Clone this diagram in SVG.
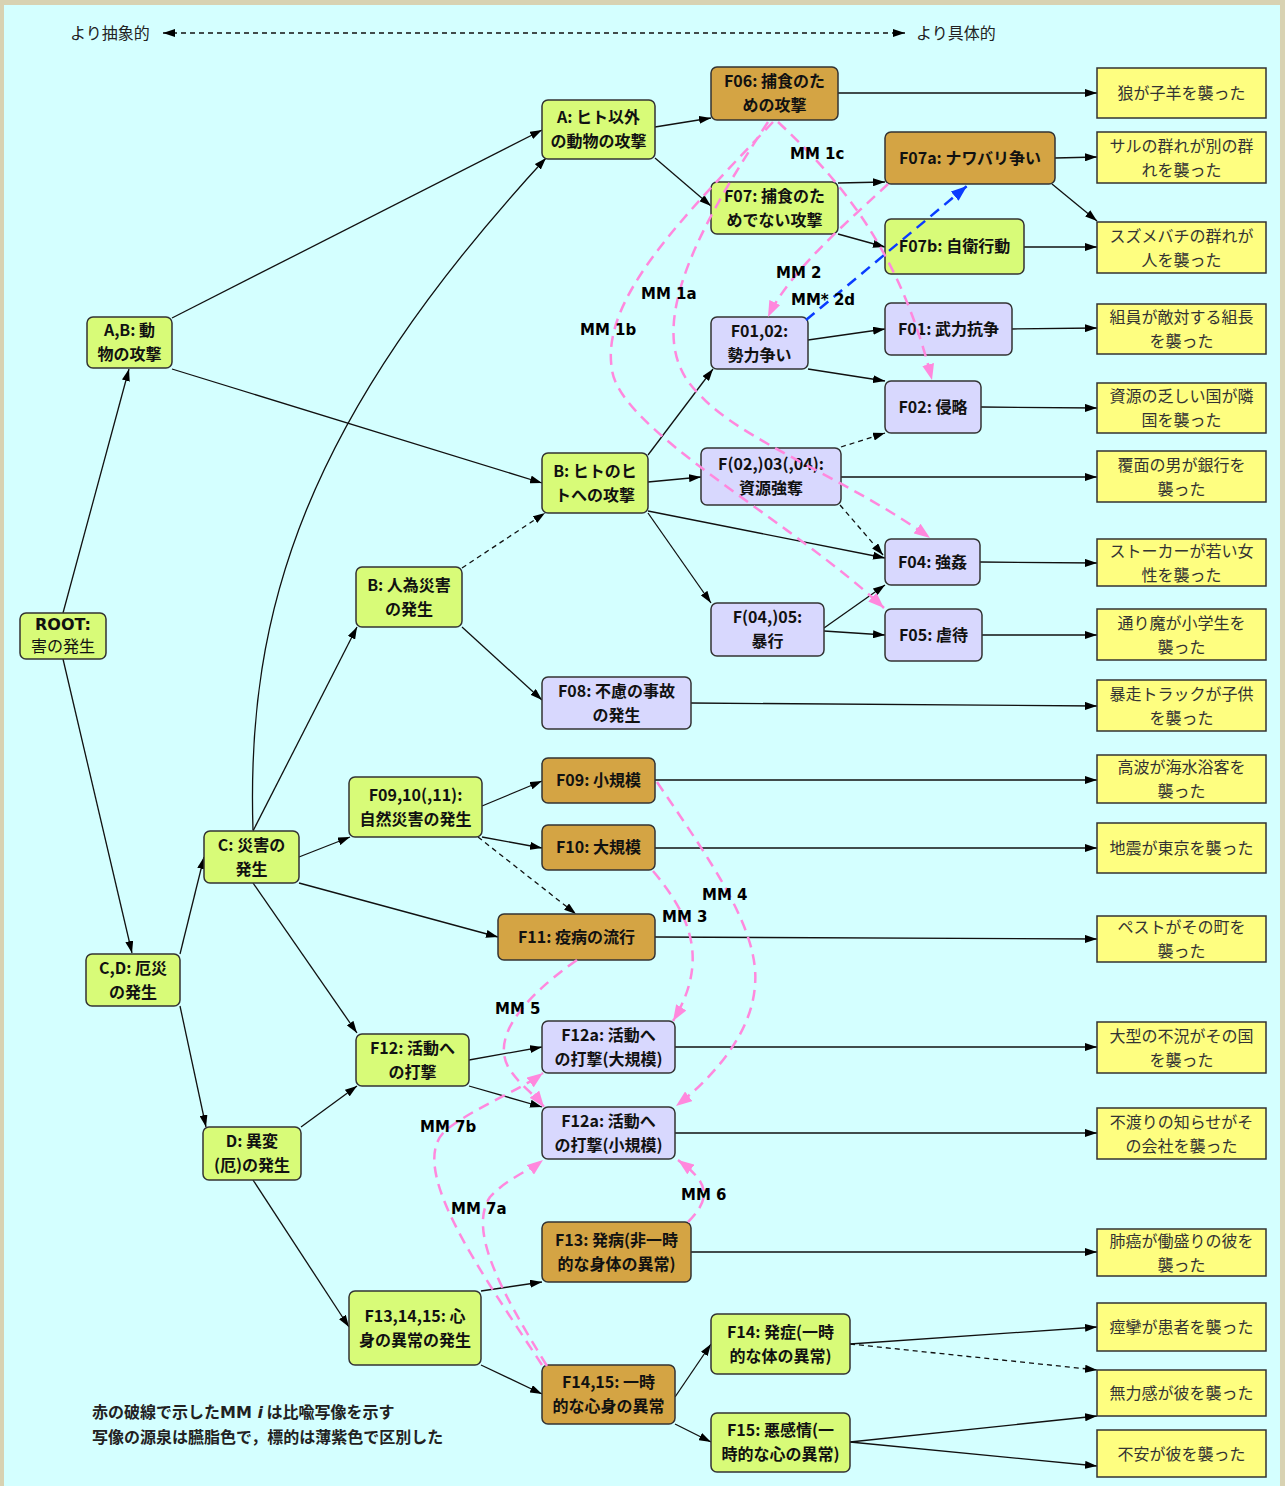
<svg xmlns="http://www.w3.org/2000/svg" width="1285" height="1486" viewBox="0 0 1285 1486">
<style>
.n{stroke:#333;stroke-width:1.5}
.g{fill:#d8fb78}.o{fill:#d4a444}.l{fill:#d8d8fe}
.lf{fill:#fefe80;stroke:#333;stroke-width:1.5}
.t{font-family:"Noto Sans CJK JP","Noto Sans",sans-serif;font-size:16px;font-weight:bold;fill:#111;text-anchor:middle;dominant-baseline:central}
.lt{font-family:"Noto Sans CJK JP","Noto Sans",sans-serif;font-size:16px;fill:#333;text-anchor:middle;dominant-baseline:central}
.e{stroke:#111;stroke-width:1.3;fill:none;marker-end:url(#ah)}
.ed{stroke:#111;stroke-width:1.3;fill:none;stroke-dasharray:5 4;marker-end:url(#ah)}
.mm{stroke:#ff88dd;stroke-width:2.5;fill:none;stroke-dasharray:11 7;marker-end:url(#ap)}
.mb{stroke:#0a3cff;stroke-width:2.5;fill:none;stroke-dasharray:11 7;marker-end:url(#ab)}
.ml{font-family:"DejaVu Sans",sans-serif;font-size:15px;font-weight:bold;fill:#000}
.hd{font-family:"Noto Sans CJK JP",sans-serif;font-size:16px;fill:#222}
.ft{font-family:"Noto Sans CJK JP",sans-serif;font-size:16px;font-weight:bold;fill:#222}
</style>
<defs>
<marker id="ah" viewBox="0 0 12 8" refX="12" refY="4" markerWidth="12" markerHeight="8" markerUnits="userSpaceOnUse" orient="auto"><path d="M0,0 L12,4 L0,8 z" fill="#000"/></marker>
<marker id="ah2" viewBox="0 0 12 8" refX="12" refY="4" markerWidth="12" markerHeight="8" markerUnits="userSpaceOnUse" orient="auto-start-reverse"><path d="M0,0 L12,4 L0,8 z" fill="#000"/></marker>
<marker id="ap" viewBox="0 0 16 12" refX="16" refY="6" markerWidth="16" markerHeight="12" markerUnits="userSpaceOnUse" orient="auto"><path d="M0,0 L16,6 L0,12 z" fill="#ff88dd"/></marker>
<marker id="ab" viewBox="0 0 16 12" refX="16" refY="6" markerWidth="16" markerHeight="12" markerUnits="userSpaceOnUse" orient="auto"><path d="M0,0 L16,6 L0,12 z" fill="#0a3cff"/></marker>
</defs>
<rect x="0" y="0" width="1285" height="1486" fill="#d8d2b2"/>
<rect x="4" y="5" width="1276" height="1481" fill="#d4ffff"/>

<g id="header">
<text class="hd" x="70" y="39">より抽象的</text>
<line x1="163" y1="33" x2="905" y2="33" stroke="#111" stroke-width="1.3" stroke-dasharray="5 4" marker-start="url(#ah2)" marker-end="url(#ah2)"/>
<text class="hd" x="916" y="39">より具体的</text>
</g>

<g id="connectors">
<line class="e" x1="63" y1="613" x2="129" y2="369"/>
<line class="e" x1="63" y1="659" x2="132" y2="953"/>
<line class="e" x1="172" y1="318" x2="542" y2="130"/>
<line class="e" x1="172" y1="369" x2="542" y2="483"/>
<path class="e" d="M253,830 C246,610 305,420 546,158"/>
<line class="e" x1="655" y1="127" x2="711" y2="118"/>
<line class="e" x1="655" y1="158" x2="711" y2="206"/>
<line class="e" x1="838" y1="93" x2="1097" y2="93"/>
<line class="e" x1="838" y1="183" x2="885" y2="182"/>
<line class="e" x1="838" y1="234" x2="885" y2="247"/>
<line class="e" x1="1055" y1="158" x2="1097" y2="157"/>
<line class="e" x1="1052" y1="184" x2="1097" y2="221"/>
<line class="e" x1="1024" y1="247" x2="1097" y2="247"/>
<line class="e" x1="648" y1="455" x2="713" y2="369"/>
<line class="e" x1="648" y1="482" x2="701" y2="477"/>
<line class="e" x1="648" y1="511" x2="885" y2="558"/>
<line class="e" x1="648" y1="513" x2="711" y2="603"/>
<line class="e" x1="808" y1="340" x2="885" y2="329"/>
<line class="e" x1="808" y1="369" x2="885" y2="381"/>
<line class="e" x1="1012" y1="329" x2="1097" y2="328"/>
<line class="e" x1="981" y1="407" x2="1097" y2="408"/>
<line class="ed" x1="841" y1="447" x2="885" y2="433"/>
<line class="e" x1="841" y1="477" x2="1097" y2="477"/>
<line class="ed" x1="840" y1="505" x2="883" y2="555"/>
<line class="e" x1="980" y1="562" x2="1097" y2="563"/>
<line class="e" x1="824" y1="628" x2="885" y2="585"/>
<line class="e" x1="824" y1="631" x2="885" y2="635"/>
<line class="e" x1="982" y1="635" x2="1097" y2="635"/>
<line class="ed" x1="462" y1="568" x2="545" y2="513"/>
<line class="e" x1="462" y1="627" x2="542" y2="700"/>
<line class="e" x1="691" y1="703" x2="1097" y2="706"/>
<line class="e" x1="253" y1="831" x2="357" y2="627"/>
<line class="e" x1="299" y1="857" x2="350" y2="837"/>
<line class="e" x1="299" y1="883" x2="498" y2="937"/>
<line class="e" x1="253" y1="883" x2="357" y2="1033"/>
<line class="e" x1="482" y1="806" x2="542" y2="781"/>
<line class="e" x1="482" y1="837" x2="542" y2="848"/>
<line class="ed" x1="478" y1="837" x2="576" y2="914"/>
<line class="e" x1="655" y1="780" x2="1097" y2="780"/>
<line class="e" x1="655" y1="848" x2="1097" y2="848"/>
<line class="e" x1="655" y1="937" x2="1097" y2="939"/>
<line class="e" x1="180" y1="954" x2="204" y2="857"/>
<line class="e" x1="180" y1="1006" x2="206" y2="1127"/>
<line class="e" x1="301" y1="1127" x2="357" y2="1086"/>
<line class="e" x1="253" y1="1180" x2="349" y2="1327"/>
<line class="e" x1="469" y1="1060" x2="542" y2="1047"/>
<line class="e" x1="469" y1="1086" x2="542" y2="1107"/>
<line class="e" x1="675" y1="1047" x2="1097" y2="1047"/>
<line class="e" x1="675" y1="1133" x2="1097" y2="1133"/>
<line class="e" x1="481" y1="1291" x2="542" y2="1282"/>
<line class="e" x1="481" y1="1365" x2="542" y2="1394"/>
<line class="e" x1="691" y1="1252" x2="1097" y2="1252"/>
<line class="e" x1="675" y1="1397" x2="711" y2="1344"/>
<line class="e" x1="675" y1="1424" x2="711" y2="1442"/>
<line class="e" x1="850" y1="1344" x2="1097" y2="1327"/>
<line class="ed" x1="850" y1="1344" x2="1097" y2="1370"/>
<line class="e" x1="850" y1="1442" x2="1097" y2="1416"/>
<line class="e" x1="850" y1="1442" x2="1097" y2="1466"/>
</g>

<g id="nodes">
<g id="root"><rect class="n g" x="20" y="613" width="86" height="46" rx="6"/><text class="t" x="63" y="624" style="font-family:'DejaVu Sans',sans-serif;font-weight:bold">ROOT:</text><text class="t" x="63" y="645" style="font-weight:normal">害の発生</text></g>
<g id="ab"><rect class="n g" x="87" y="317" width="85" height="51" rx="6"/><text class="t" x="129.5" y="329">A,B: 動</text><text class="t" x="129.5" y="353">物の攻撃</text></g>
<g id="cd"><rect class="n g" x="86" y="954" width="94" height="52" rx="6"/><text class="t" x="133" y="966.5">C,D: 厄災</text><text class="t" x="133" y="990.5">の発生</text></g>
<g id="a"><rect class="n g" x="542" y="100" width="113" height="59" rx="6"/><text class="t" x="598.5" y="116">A: ヒト以外</text><text class="t" x="598.5" y="140">の動物の攻撃</text></g>
<g id="b"><rect class="n g" x="542" y="453" width="106" height="60" rx="6"/><text class="t" x="595" y="469.5">B: ヒトのヒ</text><text class="t" x="595" y="493.5">トへの攻撃</text></g>
<g id="bj"><rect class="n g" x="356" y="567" width="106" height="60" rx="6"/><text class="t" x="409" y="583.5">B: 人為災害</text><text class="t" x="409" y="607.5">の発生</text></g>
<g id="c"><rect class="n g" x="204" y="831" width="95" height="52" rx="6"/><text class="t" x="251.5" y="843.5">C: 災害の</text><text class="t" x="251.5" y="867.5">発生</text></g>
<g id="d"><rect class="n g" x="203" y="1127" width="98" height="53" rx="6"/><text class="t" x="252" y="1140">D: 異変</text><text class="t" x="252" y="1164">(厄)の発生</text></g>
<g id="f06"><rect class="n o" x="711" y="67" width="127" height="53" rx="6"/><text class="t" x="774.5" y="80">F06: 捕食のた</text><text class="t" x="774.5" y="104">めの攻撃</text></g>
<g id="f07"><rect class="n g" x="711" y="182" width="127" height="52" rx="6"/><text class="t" x="774.5" y="194.5">F07: 捕食のた</text><text class="t" x="774.5" y="218.5">めでない攻撃</text></g>
<g id="f07a"><rect class="n o" x="885" y="132" width="170" height="52" rx="6"/><text class="t" x="970" y="156.5">F07a: ナワバリ争い</text></g>
<g id="f07b"><rect class="n g" x="885" y="219" width="139" height="55" rx="6"/><text class="t" x="954.5" y="245">F07b: 自衛行動</text></g>
<g id="f0102"><rect class="n l" x="711" y="317" width="97" height="52" rx="6"/><text class="t" x="759.5" y="329.5">F01,02:</text><text class="t" x="759.5" y="353.5">勢力争い</text></g>
<g id="f01"><rect class="n l" x="885" y="303" width="127" height="52" rx="6"/><text class="t" x="948.5" y="327.5">F01: 武力抗争</text></g>
<g id="f02"><rect class="n l" x="885" y="381" width="96" height="52" rx="6"/><text class="t" x="933" y="405.5">F02: 侵略</text></g>
<g id="f03"><rect class="n l" x="701" y="448" width="140" height="57" rx="6"/><text class="t" x="771" y="463">F(02,)03(,04):</text><text class="t" x="771" y="487">資源強奪</text></g>
<g id="f04"><rect class="n l" x="885" y="539" width="95" height="46" rx="6"/><text class="t" x="932.5" y="560.5">F04: 強姦</text></g>
<g id="f0405"><rect class="n l" x="711" y="603" width="113" height="53" rx="6"/><text class="t" x="767.5" y="616">F(04,)05:</text><text class="t" x="767.5" y="640">暴行</text></g>
<g id="f05"><rect class="n l" x="885" y="609" width="97" height="52" rx="6"/><text class="t" x="933.5" y="633.5">F05: 虐待</text></g>
<g id="f08"><rect class="n l" x="542" y="677" width="149" height="52" rx="6"/><text class="t" x="616.5" y="689.5">F08: 不慮の事故</text><text class="t" x="616.5" y="713.5">の発生</text></g>
<g id="f0910"><rect class="n g" x="349" y="777" width="133" height="60" rx="6"/><text class="t" x="415.5" y="793.5">F09,10(,11):</text><text class="t" x="415.5" y="817.5">自然災害の発生</text></g>
<g id="f09"><rect class="n o" x="542" y="758" width="113" height="45" rx="6"/><text class="t" x="598.5" y="779">F09: 小規模</text></g>
<g id="f10"><rect class="n o" x="542" y="825" width="113" height="45" rx="6"/><text class="t" x="598.5" y="846">F10: 大規模</text></g>
<g id="f11"><rect class="n o" x="498" y="914" width="157" height="46" rx="6"/><text class="t" x="576.5" y="935.5">F11: 疫病の流行</text></g>
<g id="f12"><rect class="n g" x="356" y="1034" width="113" height="52" rx="6"/><text class="t" x="412.5" y="1046.5">F12: 活動へ</text><text class="t" x="412.5" y="1070.5">の打撃</text></g>
<g id="f12a1"><rect class="n l" x="542" y="1021" width="133" height="52" rx="6"/><text class="t" x="608.5" y="1033.5">F12a: 活動へ</text><text class="t" x="608.5" y="1057.5">の打撃(大規模)</text></g>
<g id="f12a2"><rect class="n l" x="542" y="1107" width="133" height="52" rx="6"/><text class="t" x="608.5" y="1119.5">F12a: 活動へ</text><text class="t" x="608.5" y="1143.5">の打撃(小規模)</text></g>
<g id="f13"><rect class="n o" x="542" y="1222" width="149" height="60" rx="6"/><text class="t" x="616.5" y="1238.5">F13: 発病(非一時</text><text class="t" x="616.5" y="1262.5">的な身体の異常)</text></g>
<g id="f131415"><rect class="n g" x="349" y="1291" width="132" height="74" rx="6"/><text class="t" x="415" y="1314.5">F13,14,15: 心</text><text class="t" x="415" y="1338.5">身の異常の発生</text></g>
<g id="f1415"><rect class="n o" x="542" y="1365" width="133" height="59" rx="6"/><text class="t" x="608.5" y="1381">F14,15: 一時</text><text class="t" x="608.5" y="1405">的な心身の異常</text></g>
<g id="f14"><rect class="n g" x="711" y="1314" width="139" height="60" rx="6"/><text class="t" x="780.5" y="1330.5">F14: 発症(一時</text><text class="t" x="780.5" y="1354.5">的な体の異常)</text></g>
<g id="f15"><rect class="n g" x="711" y="1413" width="139" height="59" rx="6"/><text class="t" x="780.5" y="1429">F15: 悪感情(一</text><text class="t" x="780.5" y="1453">時的な心の異常)</text></g>

<g id="lf1"><rect class="lf" x="1097" y="68" width="169" height="50"/><text class="lt" x="1181.5" y="92">狼が子羊を襲った</text></g>
<g id="lf2"><rect class="lf" x="1097" y="132" width="169" height="51"/><text class="lt" x="1181.5" y="144.5">サルの群れが別の群</text><text class="lt" x="1181.5" y="168.5">れを襲った</text></g>
<g id="lf3"><rect class="lf" x="1097" y="222" width="169" height="51"/><text class="lt" x="1181.5" y="234.5">スズメバチの群れが</text><text class="lt" x="1181.5" y="258.5">人を襲った</text></g>
<g id="lf4"><rect class="lf" x="1097" y="304" width="169" height="50"/><text class="lt" x="1181.5" y="316">組員が敵対する組長</text><text class="lt" x="1181.5" y="340">を襲った</text></g>
<g id="lf5"><rect class="lf" x="1097" y="383" width="169" height="50"/><text class="lt" x="1181.5" y="395">資源の乏しい国が隣</text><text class="lt" x="1181.5" y="419">国を襲った</text></g>
<g id="lf6"><rect class="lf" x="1097" y="451" width="169" height="51"/><text class="lt" x="1181.5" y="463.5">覆面の男が銀行を</text><text class="lt" x="1181.5" y="487.5">襲った</text></g>
<g id="lf7"><rect class="lf" x="1097" y="539" width="169" height="47"/><text class="lt" x="1181.5" y="549.5">ストーカーが若い女</text><text class="lt" x="1181.5" y="573.5">性を襲った</text></g>
<g id="lf8"><rect class="lf" x="1097" y="609" width="169" height="51"/><text class="lt" x="1181.5" y="621.5">通り魔が小学生を</text><text class="lt" x="1181.5" y="645.5">襲った</text></g>
<g id="lf9"><rect class="lf" x="1097" y="680" width="169" height="51"/><text class="lt" x="1181.5" y="692.5">暴走トラックが子供</text><text class="lt" x="1181.5" y="716.5">を襲った</text></g>
<g id="lf10"><rect class="lf" x="1097" y="755" width="169" height="48"/><text class="lt" x="1181.5" y="766">高波が海水浴客を</text><text class="lt" x="1181.5" y="790">襲った</text></g>
<g id="lf11"><rect class="lf" x="1097" y="823" width="169" height="50"/><text class="lt" x="1181.5" y="847">地震が東京を襲った</text></g>
<g id="lf12"><rect class="lf" x="1097" y="916" width="169" height="46"/><text class="lt" x="1181.5" y="926">ペストがその町を</text><text class="lt" x="1181.5" y="950">襲った</text></g>
<g id="lf13"><rect class="lf" x="1097" y="1022" width="169" height="51"/><text class="lt" x="1181.5" y="1034.5">大型の不況がその国</text><text class="lt" x="1181.5" y="1058.5">を襲った</text></g>
<g id="lf14"><rect class="lf" x="1097" y="1108" width="169" height="51"/><text class="lt" x="1181.5" y="1120.5">不渡りの知らせがそ</text><text class="lt" x="1181.5" y="1144.5">の会社を襲った</text></g>
<g id="lf15"><rect class="lf" x="1097" y="1229" width="169" height="47"/><text class="lt" x="1181.5" y="1239.5">肺癌が働盛りの彼を</text><text class="lt" x="1181.5" y="1263.5">襲った</text></g>
<g id="lf16"><rect class="lf" x="1097" y="1303" width="169" height="48"/><text class="lt" x="1181.5" y="1326">痙攣が患者を襲った</text></g>
<g id="lf17"><rect class="lf" x="1097" y="1370" width="169" height="46"/><text class="lt" x="1181.5" y="1392">無力感が彼を襲った</text></g>
<g id="lf18"><rect class="lf" x="1097" y="1430" width="169" height="47"/><text class="lt" x="1181.5" y="1452.5">不安が彼を襲った</text></g>
</g>

<g id="mappings">
<path class="mm" d="M768,122 C690,240 640,340 700,395 C740,440 850,480 930,538"/>
<path class="mm" d="M773,122 C680,220 600,300 612,370 C620,430 790,520 884,608"/>
<path class="mm" d="M778,122 C840,180 900,250 932,380"/>
<path class="mm" d="M888,184 C850,220 790,270 768,317"/>
<path class="mb" d="M806,320 L967,186"/>
<path class="mm" d="M653,871 C690,915 710,960 673,1021"/>
<path class="mm" d="M657,782 C710,860 760,930 755,985 C752,1035 710,1080 676,1106"/>
<path class="mm" d="M577,960 C520,1000 490,1040 510,1070 C520,1085 535,1095 544,1107"/>
<path class="mm" d="M688,1222 C715,1195 705,1180 678,1160"/>
<path class="mm" d="M547,1366 C500,1290 468,1230 490,1197 C505,1180 530,1170 543,1160"/>
<path class="mm" d="M542,1365 C480,1270 400,1160 450,1127 C480,1105 520,1090 543,1073"/>
<text class="ml" x="641" y="299">MM 1a</text>
<text class="ml" x="580" y="335">MM 1b</text>
<text class="ml" x="790" y="159">MM 1c</text>
<text class="ml" x="776" y="278">MM 2</text>
<text class="ml" x="791" y="305">MM* 2d</text>
<text class="ml" x="662" y="922">MM 3</text>
<text class="ml" x="702" y="900">MM 4</text>
<text class="ml" x="495" y="1014">MM 5</text>
<text class="ml" x="681" y="1200">MM 6</text>
<text class="ml" x="451" y="1214">MM 7a</text>
<text class="ml" x="420" y="1132">MM 7b</text>
</g>

<g id="footer">
<text class="ft" x="92" y="1418">赤の破線で示した<tspan style="font-family:'DejaVu Sans',sans-serif">MM </tspan><tspan style="font-family:'DejaVu Sans',sans-serif;font-style:italic">i</tspan> は比喩写像を示す</text>
<text class="ft" x="92" y="1443">写像の源泉は臙脂色で，標的は薄紫色で区別した</text>
</g>
</svg>
